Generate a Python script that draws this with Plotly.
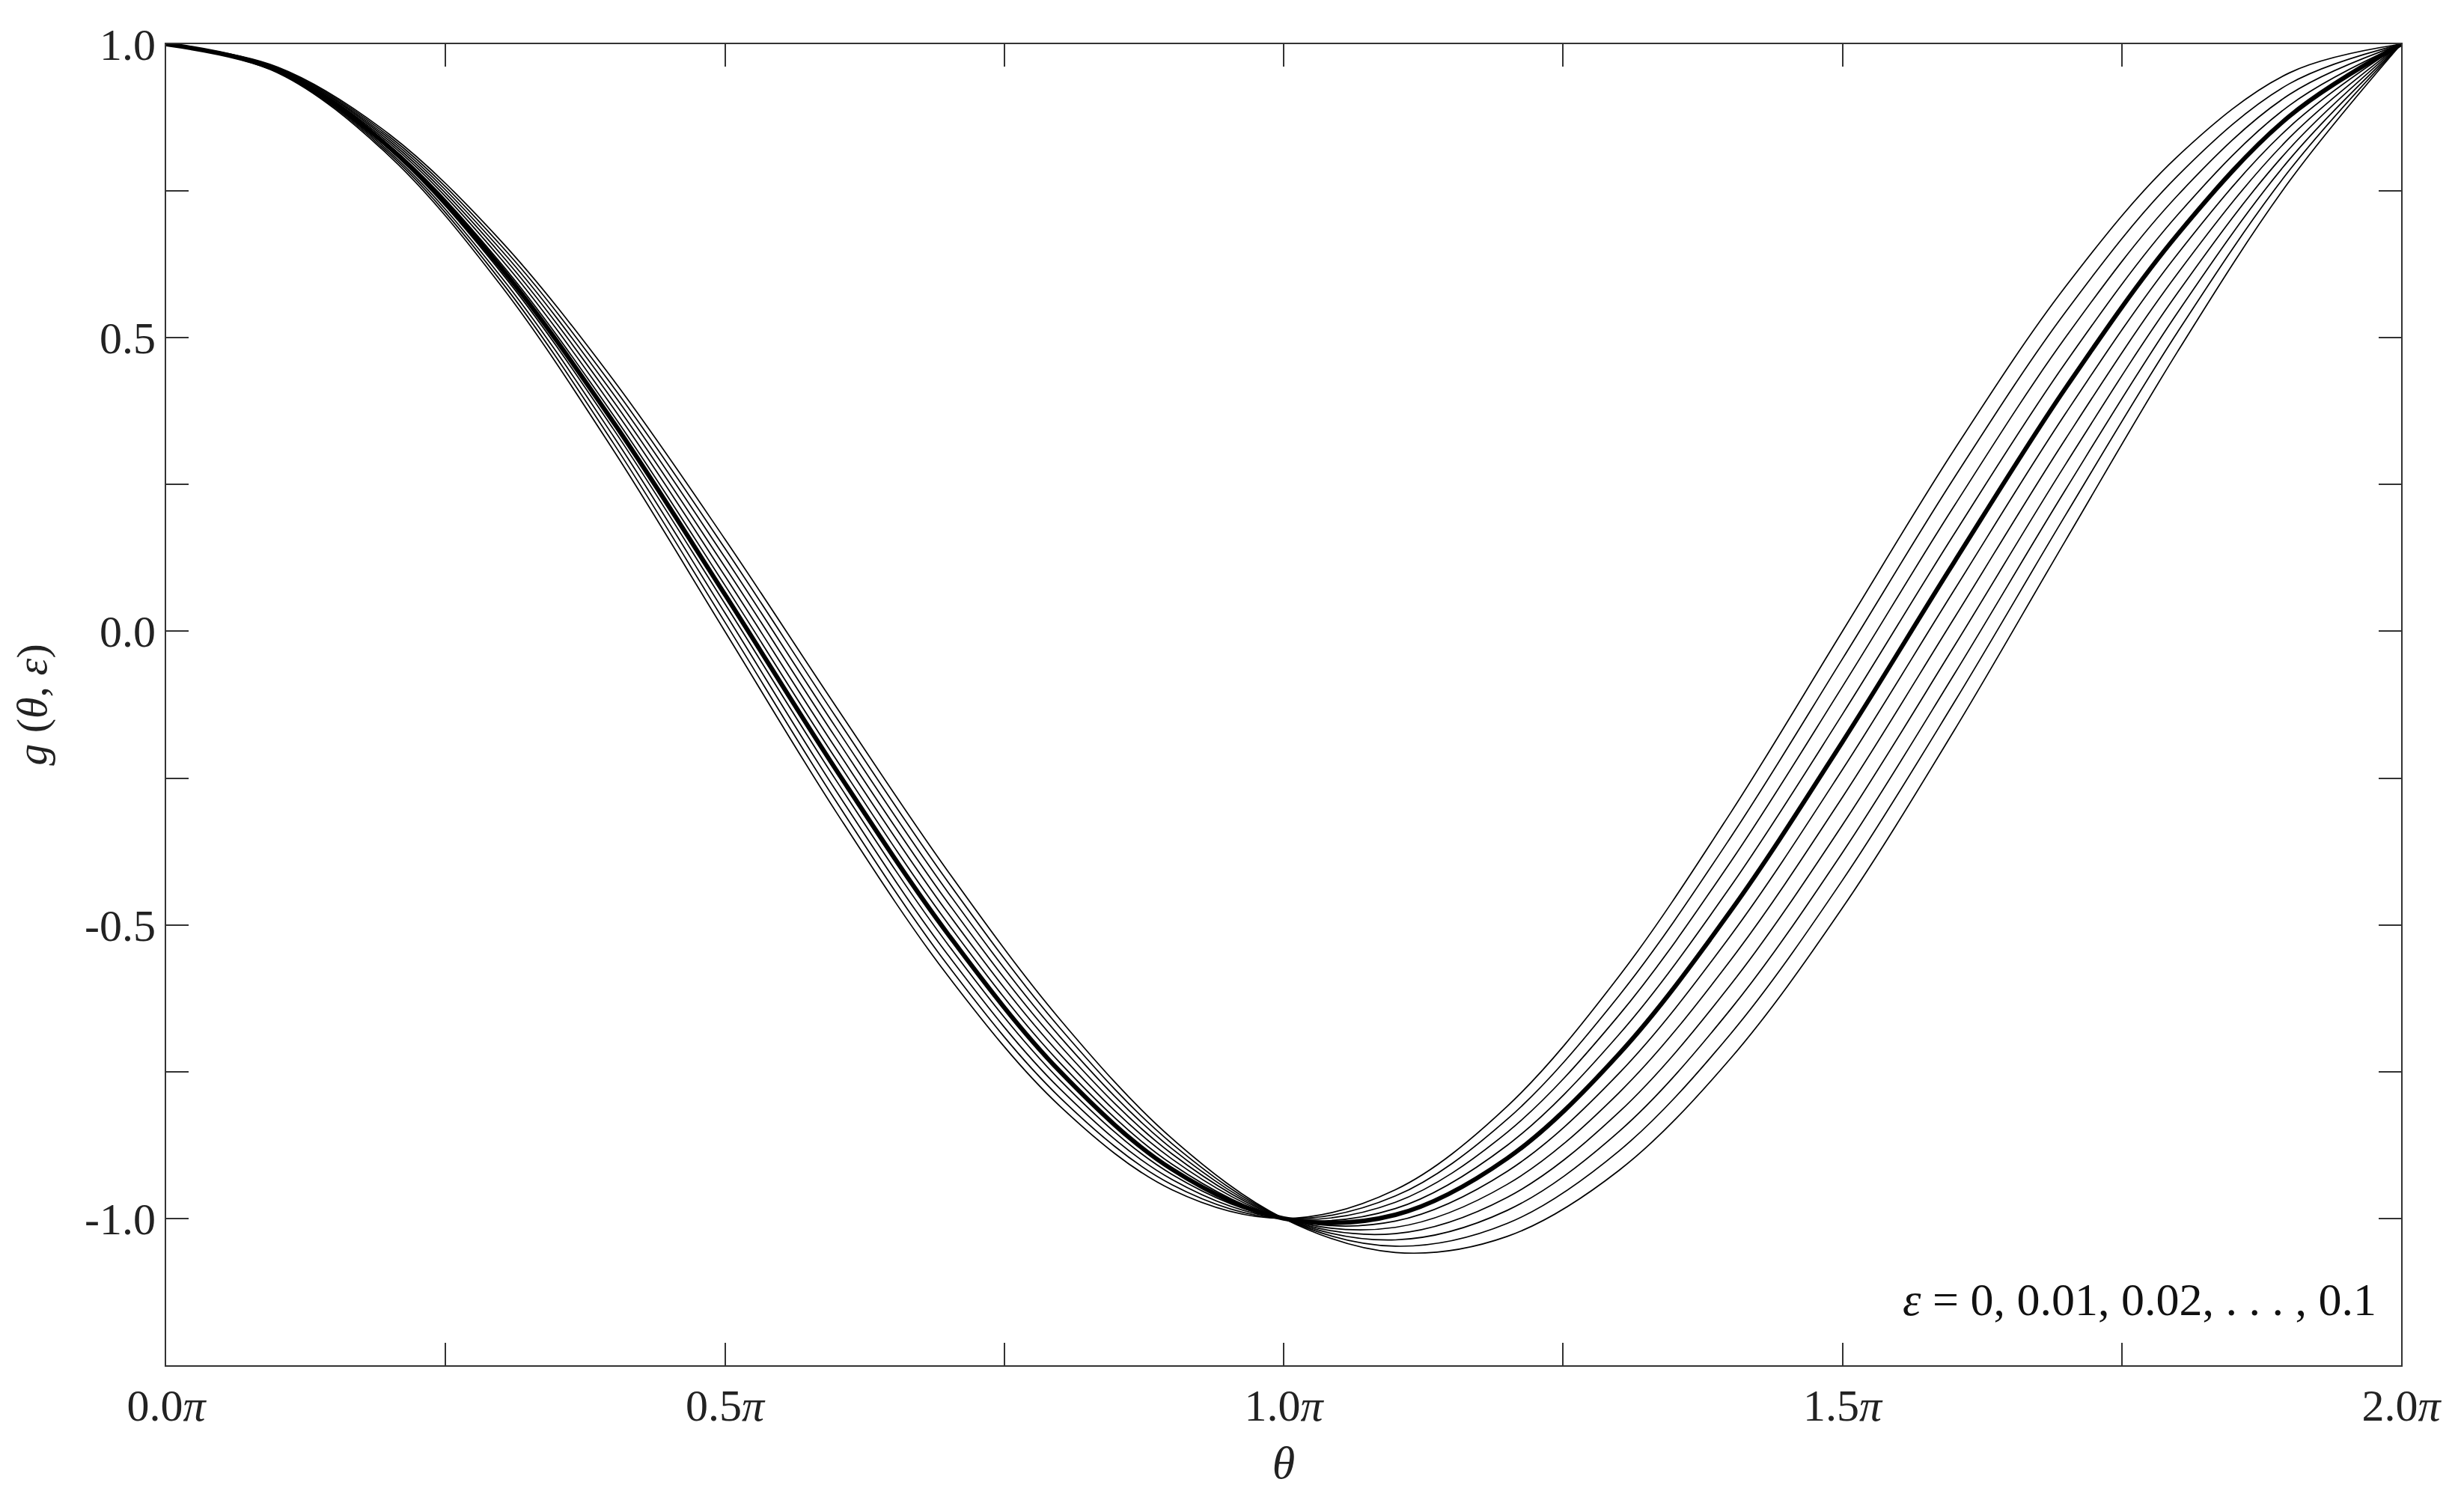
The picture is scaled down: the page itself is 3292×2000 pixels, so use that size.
import plotly.graph_objects as go

# theta in units of pi
theta_pi = [0.0, 0.1, 0.2, 0.3, 0.4, 0.5, 0.6, 0.7, 0.8, 0.9, 1.0,
            1.1, 1.2, 1.3, 1.4, 1.5, 1.6, 1.7, 1.8, 1.9, 2.0]

epsilons = [0.0, 0.01, 0.02, 0.03, 0.04, 0.05, 0.06, 0.07, 0.08, 0.09, 0.1]

g_eps_000 = [1, 0.9511, 0.8090, 0.5878, 0.3090, 0.0, -0.3090, -0.5878, -0.8090, -0.9511, -1,
             -0.9511, -0.8090, -0.5878, -0.3090, 0.0, 0.3090, 0.5878, 0.8090, 0.9511, 1]
g_eps_001 = [1, 0.9520, 0.8127, 0.5954, 0.3210, 0.0157, -0.2911, -0.5700, -0.7943, -0.9423, -1,
             -0.9617, -0.8312, -0.6208, -0.3509, -0.0471, 0.2612, 0.5446, 0.7758, 0.9326, 1]
g_eps_002 = [1, 0.9530, 0.8164, 0.6030, 0.3329, 0.0314, -0.2732, -0.5522, -0.7795, -0.9336, -1,
             -0.9724, -0.8533, -0.6539, -0.3927, -0.0942, 0.2134, 0.5014, 0.7425, 0.9142, 1]
g_eps_003 = [1, 0.9540, 0.8201, 0.6107, 0.3449, 0.0471, -0.2552, -0.5344, -0.7647, -0.9249, -1,
             -0.9831, -0.8755, -0.6869, -0.4345, -0.1414, 0.1656, 0.4582, 0.7093, 0.8957, 1]
g_eps_004 = [1, 0.9549, 0.8238, 0.6183, 0.3568, 0.0628, -0.2373, -0.5166, -0.7499, -0.9161, -1,
             -0.9938, -0.8977, -0.7200, -0.4763, -0.1885, 0.1178, 0.4150, 0.6761, 0.8773, 1]
g_eps_005 = [1, 0.9559, 0.8275, 0.6259, 0.3688, 0.0785, -0.2194, -0.4988, -0.7352, -0.9074, -1,
             -1.0045, -0.9198, -0.7530, -0.5182, -0.2356, 0.0700, 0.3718, 0.6428, 0.8588, 1]
g_eps_006 = [1, 0.9569, 0.8312, 0.6335, 0.3807, 0.0942, -0.2015, -0.4810, -0.7204, -0.8986, -1,
             -1.0151, -0.9420, -0.7860, -0.5600, -0.2827, 0.0222, 0.3286, 0.6096, 0.8404, 1]
g_eps_007 = [1, 0.9579, 0.8349, 0.6412, 0.3927, 0.1100, -0.1835, -0.4633, -0.7056, -0.8899, -1,
             -1.0258, -0.9641, -0.8191, -0.6018, -0.3299, -0.0256, 0.2853, 0.5764, 0.8219, 1]
g_eps_008 = [1, 0.9588, 0.8386, 0.6488, 0.4046, 0.1257, -0.1656, -0.4455, -0.6908, -0.8812, -1,
             -1.0365, -0.9863, -0.8521, -0.6437, -0.3770, -0.0734, 0.2421, 0.5431, 0.8035, 1]
g_eps_009 = [1, 0.9598, 0.8423, 0.6564, 0.4166, 0.1414, -0.1477, -0.4277, -0.6761, -0.8724, -1,
             -1.0472, -1.0085, -0.8852, -0.6855, -0.4241, -0.1212, 0.1989, 0.5099, 0.7851, 1]
g_eps_010 = [1, 0.9608, 0.8460, 0.6640, 0.4285, 0.1571, -0.1298, -0.4099, -0.6613, -0.8637, -1,
             -1.0579, -1.0306, -0.9182, -0.7273, -0.4712, -0.1690, 0.1557, 0.4766, 0.7666, 1]

curves = [g_eps_000, g_eps_001, g_eps_002, g_eps_003, g_eps_004, g_eps_005,
          g_eps_006, g_eps_007, g_eps_008, g_eps_009, g_eps_010]
highlight_eps = 0.04

x_tickvals = [0.0, 0.25, 0.5, 0.75, 1.0, 1.25, 1.5, 1.75, 2.0]
x_ticktext = ["0.0<i>π</i>", "", "0.5<i>π</i>", "", "1.0<i>π</i>", "",
              "1.5<i>π</i>", "", "2.0<i>π</i>"]
y_tickvals = [1.0, 0.75, 0.5, 0.25, 0.0, -0.25, -0.5, -0.75, -1.0, -1.25]
y_ticktext = ["1.0", "", "0.5", "", "0.0", "", "-0.5", "", "-1.0", ""]

FONT = "Liberation Serif"
AXIS_COLOR = "#333333"
TEXT_COLOR = "#222222"

fig = go.Figure()
for eps, g in zip(epsilons, curves):
    thick = abs(eps - highlight_eps) < 1e-9
    fig.add_trace(
        go.Scatter(
            x=theta_pi,
            y=g,
            mode="lines",
            name=f"ε = {eps}",
            line=dict(color="black", width=6 if thick else 1.7, shape="spline"),
        )
    )

axis_common = dict(
    showline=True,
    linecolor=AXIS_COLOR,
    linewidth=2,
    mirror="allticks",
    ticks="inside",
    ticklen=30,
    tickwidth=1.5,
    tickcolor=AXIS_COLOR,
    showgrid=False,
    zeroline=False,
    tickfont=dict(family=FONT, size=60, color=TEXT_COLOR),
)

fig.update_xaxes(
    range=[0, 2],
    tickmode="array",
    tickvals=x_tickvals,
    ticktext=x_ticktext,
    title=dict(text="<i>θ</i>", font=dict(family=FONT, size=62, color=TEXT_COLOR), standoff=22),
    **axis_common,
)
fig.update_yaxes(
    range=[-1.25, 1.0],
    tickmode="array",
    tickvals=y_tickvals,
    ticktext=y_ticktext,
    title=dict(text="<i>g</i> (<i>θ</i>, <i>ε</i>)", font=dict(family=FONT, size=58, color=TEXT_COLOR), standoff=32),
    **axis_common,
)

fig.add_annotation(
    text="<i>ε</i> = 0, 0.01, 0.02, . . . , 0.1",
    xref="paper", yref="paper",
    x=0.9895, y=0.05,
    xanchor="right", yanchor="middle",
    showarrow=False,
    font=dict(family=FONT, size=62, color="#111111"),
)

# page body adds an 8px margin around the figure
fig.update_layout(
    width=3276,
    height=1984,
    margin=dict(l=214, r=76, t=51, b=168),
    plot_bgcolor="white",
    paper_bgcolor="white",
    showlegend=False,
)

fig.write_html("out.html")
